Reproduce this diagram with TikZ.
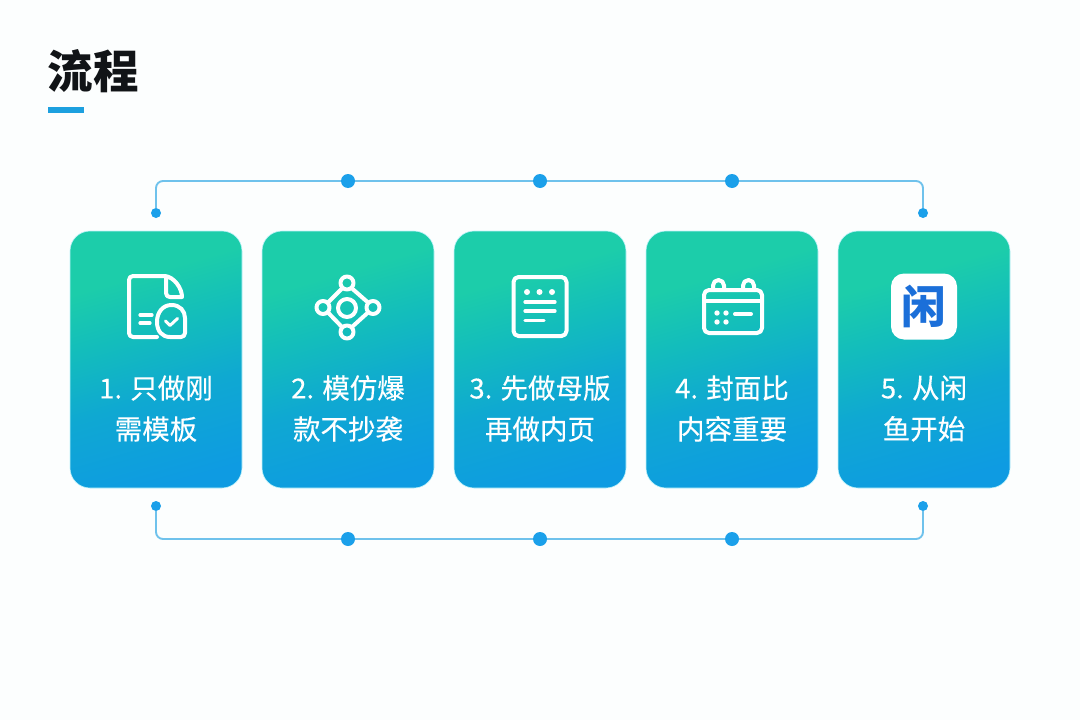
\documentclass[tikz,border=0pt]{standalone}
\usepackage{fontspec}
\setmainfont{Noto Sans CJK SC}
\newfontfamily\cardfont[FakeBold=0.35]{Noto Sans CJK SC}
\usetikzlibrary{calc}
\definecolor{bgc}{HTML}{FCFEFE}
\definecolor{linec}{HTML}{6FC2EC}
\definecolor{dotc}{HTML}{1BA0EA}
\definecolor{ruleC}{HTML}{1DA0DF}
\definecolor{glow}{HTML}{BFF3FA}
\definecolor{xianc}{HTML}{1B6FD9}
\definecolor{titlec}{HTML}{111417}
\definecolor{ga}{HTML}{0E9BE2}
\definecolor{gb}{HTML}{0FA8D2}
\definecolor{gc}{HTML}{13BDBC}
\definecolor{gd}{HTML}{1CCDAA}
\pgfdeclareverticalshading{cardshade}{100bp}{
  color(0bp)=(ga);
  color(24bp)=(ga);
  color(42bp)=(gb);
  color(56bp)=(gc);
  color(68bp)=(gd);
  color(100bp)=(gd)}
\tikzset{
  x=1pt,y=-1pt,
  card/.style={minimum width=172pt,minimum height=257pt,rounded corners=20pt,inner sep=0pt,
    draw=glow,line width=.6pt,shading=cardshade,shading angle=16},
  bigdot/.style={circle,fill=dotc,minimum size=14pt,inner sep=0pt},
  smalldot/.style={circle,fill=dotc,minimum size=10pt,inner sep=0pt},
  link/.style={draw=linec,line width=1.9pt,rounded corners=7pt},
  label/.style={text=white,align=center,font=\cardfont\fontsize{27.5}{41}\selectfont,inner sep=0pt},
  ico/.style={draw=white,line width=4pt,line cap=round,line join=round},
  icodot/.style={fill=white,draw=none},
}
\begin{document}
\begin{tikzpicture}
\useasboundingbox (0,0) rectangle (1080,720);
\fill[bgc] (0,0) rectangle (1080,720);
% title
\node[inner sep=0pt,text=titlec,font=\fontsize{45.5}{45.5}\selectfont\bfseries] (title) at (93,71) {流程};
\fill[ruleC] (48,107) rectangle (84,113);
% cards
\node[card] (c1) at (156,359.5) {};
\node[card] (c2) at (348,359.5) {};
\node[card] (c3) at (540,359.5) {};
\node[card] (c4) at (732,359.5) {};
\node[card] (c5) at (924,359.5) {};
% labels
\node[label] (t1) at (156,408.5) {1. 只做刚\\需模板};
\node[label] (t2) at (348,408.5) {2. 模仿爆\\款不抄袭};
\node[label] (t3) at (540,408.5) {3. 先做母版\\再做内页};
\node[label] (t4) at (732,408.5) {4. 封面比\\内容重要};
\node[label] (t5) at (924,408.5) {5. 从闲\\鱼开始};
% connectors
\node[smalldot] (ta) at (156,213) {};
\node[bigdot] (tb) at (348,181) {};
\node[bigdot] (tc) at (540,181) {};
\node[bigdot] (td) at (732,181) {};
\node[smalldot] (te) at (923,213) {};
\node[smalldot] (ba) at (156,506) {};
\node[bigdot] (bb) at (348,539) {};
\node[bigdot] (bc) at (540,539) {};
\node[bigdot] (bd) at (732,539) {};
\node[smalldot] (be) at (923,506) {};
\draw[link] (ta) |- (tb);
\draw[link] (tb) -- (tc);
\draw[link] (tc) -- (td);
\draw[link] (td) -| (te);
\draw[link] (ba) |- (bb);
\draw[link] (bb) -- (bc);
\draw[link] (bc) -- (bd);
\draw[link] (bd) -| (be);
% icon 1
\draw[ico] (157,337) -- (133,337) arc[start angle=90,end angle=180,radius=4] -- (129,280) arc[start angle=180,end angle=270,radius=4] -- (165,276);
\draw[ico] (166,277) -- (166,293) .. controls (166,296) and (168,297) .. (170,297) -- (182,297) .. controls (182,288) and (174,277) .. (165,276);
\draw[ico] (171.5,305) .. controls (180,305) and (185,311) .. (185,318) -- (185,333) arc[start angle=0,end angle=90,radius=4] -- (170,337) .. controls (162,337) and (157,331) .. (157,322) .. controls (157,312) and (163,305) .. (171.5,305);
\draw[ico,line width=3.2pt] (140,315) -- (152,315) (140,323) -- (150,323);
\draw[ico,line width=3pt] (165.5,321) -- (170,325.5) -- (177.5,318.5);
% icon 2
\draw[ico] (347,308) circle[radius=9];
\draw[ico] (347,283) circle[radius=6.5];
\draw[ico] (323,307.5) circle[radius=6.5];
\draw[ico] (373,307.5) circle[radius=6.5];
\draw[ico] (347,332) circle[radius=6.5];
\draw[ico] (342.5,288) -- (328,302.5) (351.5,288) -- (368,302.5) (328,312.5) -- (341.5,326.5) (368,312.5) -- (352.5,326.5);
% icon 3
\draw[ico,rounded corners=5pt] (513.5,277) rectangle (566.5,336);
\foreach \p in {527,539.5,552}{\fill[icodot] (\p,292) circle[radius=3];}
\draw[ico,line width=3.2pt] (525,302) -- (555,302) (525,311) -- (555,311) (525,320.5) -- (544,320.5);
% icon 4
\draw[ico,rounded corners=5pt] (704,290) rectangle (762,333);
\draw[ico] (704,300.5) -- (762,300.5);
\draw[ico] (713,290) -- (713,285.5) arc[start angle=180,end angle=360,radius=5.5] -- (724,290);
\draw[ico] (743,290) -- (743,285.5) arc[start angle=180,end angle=360,radius=5.5] -- (754,290);
\foreach \p/\q in {717/313,726/313,717/322,726/322}{\fill[icodot] (\p,\q) circle[radius=2.7];}
\draw[ico] (735,314) -- (751,314);
% icon 5
\node[fill=white,rounded corners=13pt,minimum size=66pt,inner sep=0pt,text=xianc,font=\fontsize{45}{45}\selectfont\bfseries] (x5) at (924,306.5) {闲};
\end{tikzpicture}
\end{document}
